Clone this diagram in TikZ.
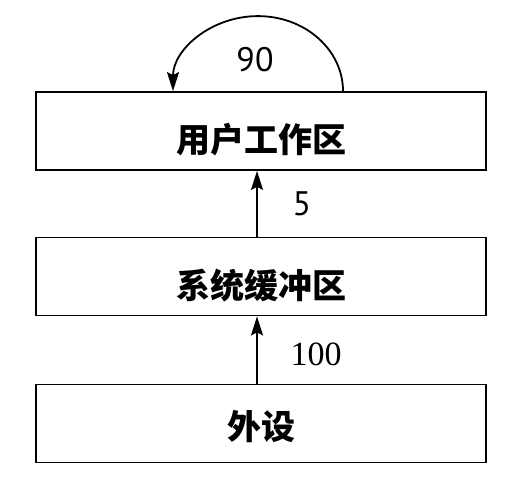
\documentclass[tikz,border=0pt]{standalone}
\usepackage{fontspec}
\newfontfamily\cjk{Noto Sans CJK SC}
\newfontfamily\numsans{PT Sans}
\newfontfamily\numserif{Liberation Serif}
\usetikzlibrary{arrows.meta}
\begin{document}
\begin{tikzpicture}[x=1pt,y=1pt,
  box/.style={draw, line width=1.8pt, minimum width=450pt, minimum height=78pt, inner sep=0pt},
  boxtext/.style={font=\cjk\bfseries\fontsize{34}{34}\selectfont},
  arr/.style={line width=1.8pt, -{Stealth[length=19pt,width=12pt,inset=3pt]}},
  numlab/.style={font=\fontsize{34}{34}\selectfont}]
\useasboundingbox (0,0) rectangle (506,480);
\node[box] (user) at (261,349) {};
\node[box] (sys) at (261,203.5) {};
\node[box] (dev) at (261,56.5) {};
\node[boxtext] (tuser) at (261,340) {用户工作区};
\node[boxtext] (tsys) at (261,194) {系统缓冲区};
\node[boxtext] (tdev) at (261,53) {外设};
\draw[arr] ([xshift=-4pt]sys.north) -- ([xshift=-4pt]user.south);
\draw[arr] ([xshift=-4pt]dev.north) -- ([xshift=-4pt]sys.south);
\draw[arr] ([xshift=82pt]user.north) arc[start angle=0, end angle=180, x radius=85pt, y radius=75pt];
\node[numlab, font=\numsans\fontsize{34}{34}\selectfont] (l90) at (255,420) {90};
\node[numlab, font=\numsans\fontsize{34}{34}\selectfont] (l5) at (302,276) {5};
\node[numlab, font=\numserif\fontsize{34}{34}\selectfont] (l100) at (316,126) {100};
\end{tikzpicture}
\end{document}
